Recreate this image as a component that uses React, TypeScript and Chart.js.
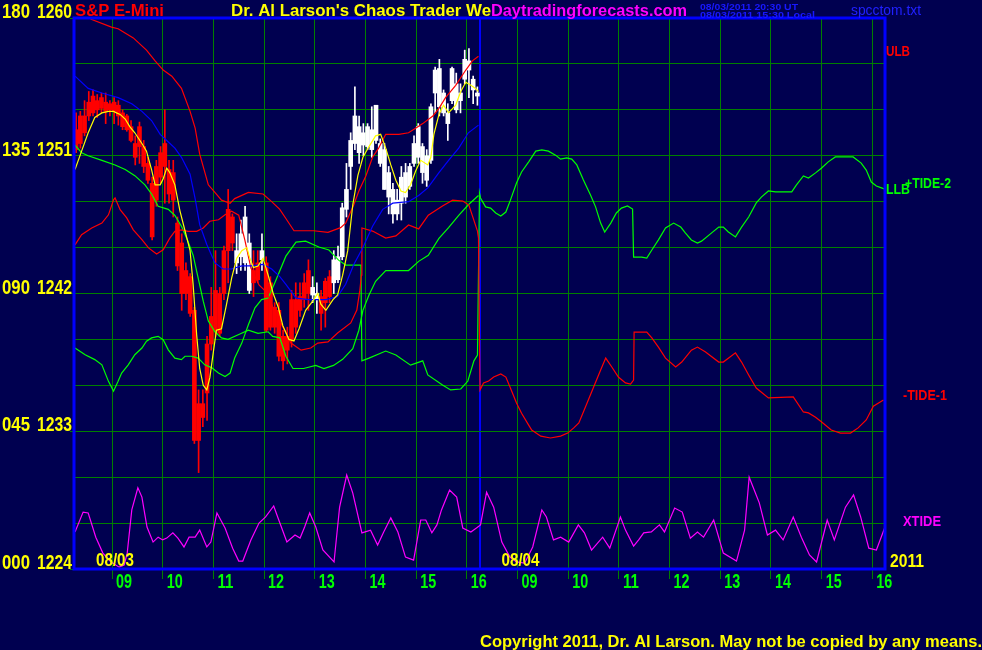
import React, { useEffect, useRef } from 'react';
import { Chart, registerables } from 'chart.js';

Chart.register(...registerables);

const BG = '#000050';
const FONT = '"Liberation Sans", Arial, Helvetica, sans-serif';

// ---- axes / labels ----
const hourTicks = [0.75, 1.75, 2.75, 3.75, 4.75, 5.75, 6.75, 7.75, 8.75, 9.75, 10.75, 11.75, 12.75, 13.75, 14.75, 15.75];
const hourLabels = ['09', '10', '11', '12', '13', '14', '15', '16', '09', '10', '11', '12', '13', '14', '15', '16'];
const sessionBreak = 8;
const dayStarts = [0, 8];
const dayLabels = ['08/03', '08/04'];
const yearLabel = '2011';
const priceLabelValues = [1260, 1251, 1242, 1233, 1224];
const oscLabelTexts = ['180', '135', '090', '045', '000'];

// ---- 5-minute candles, 08/03 session ----
const candleOpen = [1252.7, 1253.6, 1253.6, 1254.5, 1254.9, 1254.6, 1254.8, 1254.5, 1254.4, 1254.5, 1254.3, 1253.8, 1253.6, 1252.9, 1251.8, 1252.9, 1251.6, 1250.5, 1249.2, 1250.3, 1251.2, 1251.8, 1250.1, 1249.9, 1246.6, 1245.3, 1243.5, 1243.1, 1240.9, 1234.8, 1234.8, 1238.7, 1240.5, 1242.2, 1242.0, 1244.8, 1247.5, 1247.0, 1244.0, 1244.4, 1244.0, 1242.2, 1243.5, 1244.0, 1244.2, 1244.0, 1242.7, 1241.1, 1240.9, 1239.2, 1239.2, 1241.6, 1241.6, 1241.8, 1242.7, 1243.5, 1241.9, 1241.6, 1241.8, 1242.8, 1243.1, 1242.7, 1242.9, 1244.4, 1247.5, 1250.3, 1251.8, 1251.2, 1251.7, 1251.6, 1251.4, 1252.0, 1250.5, 1248.8, 1248.3, 1247.2, 1247.2, 1247.9, 1248.3, 1249.0, 1250.5, 1250.9, 1249.9, 1249.4, 1250.7, 1255.1, 1254.2, 1253.8, 1253.1, 1254.6, 1254.0, 1254.6, 1256.0, 1256.6, 1255.3, 1254.9];
const candleHigh = [1253.8, 1253.9, 1254.6, 1255.2, 1255.3, 1255.0, 1255.1, 1255.1, 1254.6, 1254.8, 1254.6, 1254.0, 1253.7, 1253.3, 1252.3, 1253.2, 1252.0, 1250.9, 1249.6, 1250.7, 1251.6, 1254.0, 1250.7, 1250.7, 1247.0, 1245.9, 1244.0, 1243.3, 1241.1, 1235.7, 1235.7, 1239.2, 1242.4, 1244.8, 1242.4, 1245.1, 1248.8, 1247.2, 1245.9, 1246.8, 1247.7, 1245.9, 1244.8, 1244.8, 1245.9, 1244.4, 1243.1, 1241.4, 1241.4, 1239.6, 1239.8, 1242.2, 1242.7, 1242.7, 1243.3, 1244.2, 1243.1, 1242.7, 1242.2, 1243.0, 1243.5, 1244.8, 1245.1, 1247.9, 1250.5, 1252.5, 1255.5, 1253.6, 1253.1, 1253.1, 1254.2, 1254.3, 1252.1, 1251.8, 1250.3, 1249.2, 1248.8, 1250.3, 1250.5, 1250.5, 1252.3, 1253.1, 1251.8, 1251.4, 1254.4, 1256.8, 1257.3, 1255.3, 1254.4, 1256.8, 1256.4, 1255.7, 1257.9, 1258.0, 1256.2, 1255.5];
const candleLow = [1251.2, 1251.5, 1252.3, 1253.3, 1253.6, 1253.5, 1253.8, 1253.1, 1253.6, 1253.1, 1253.0, 1252.7, 1252.6, 1251.9, 1250.4, 1250.5, 1249.9, 1249.2, 1245.5, 1247.7, 1249.2, 1247.9, 1247.9, 1247.0, 1243.5, 1240.9, 1241.6, 1240.5, 1232.2, 1230.3, 1233.3, 1233.7, 1238.3, 1239.2, 1239.2, 1241.6, 1242.7, 1244.8, 1243.3, 1243.5, 1243.5, 1242.0, 1241.8, 1242.7, 1243.5, 1239.5, 1239.6, 1239.4, 1237.6, 1237.0, 1237.4, 1238.5, 1239.4, 1240.5, 1241.1, 1240.9, 1241.4, 1240.7, 1239.6, 1239.8, 1241.4, 1242.0, 1242.7, 1244.2, 1247.0, 1248.8, 1251.4, 1250.5, 1251.0, 1251.4, 1250.9, 1251.8, 1250.3, 1248.8, 1247.2, 1246.6, 1246.8, 1246.8, 1247.9, 1248.8, 1250.3, 1250.5, 1249.2, 1249.0, 1250.5, 1253.8, 1253.6, 1253.6, 1252.0, 1254.4, 1253.8, 1253.8, 1255.7, 1254.8, 1254.4, 1254.3];
const candleClose = [1251.4, 1251.8, 1252.5, 1253.6, 1253.8, 1254.0, 1254.1, 1253.9, 1254.0, 1253.9, 1253.6, 1252.9, 1252.7, 1252.0, 1250.9, 1251.6, 1250.3, 1249.4, 1245.7, 1248.1, 1249.6, 1250.3, 1248.5, 1248.1, 1243.8, 1242.0, 1242.0, 1240.7, 1232.4, 1232.4, 1233.9, 1235.5, 1238.7, 1239.6, 1239.4, 1242.0, 1244.8, 1245.3, 1244.8, 1245.9, 1247.0, 1245.3, 1242.7, 1242.9, 1244.8, 1239.6, 1239.8, 1239.8, 1237.9, 1237.6, 1238.3, 1239.0, 1239.8, 1240.9, 1241.6, 1242.0, 1242.4, 1242.0, 1240.7, 1241.4, 1241.8, 1244.2, 1244.4, 1247.6, 1248.8, 1252.0, 1253.6, 1252.9, 1252.5, 1252.9, 1252.7, 1254.3, 1251.8, 1251.4, 1249.9, 1248.8, 1248.1, 1249.6, 1249.9, 1250.3, 1251.8, 1252.9, 1251.6, 1251.0, 1254.2, 1256.6, 1256.7, 1255.1, 1253.8, 1256.7, 1255.7, 1255.1, 1257.3, 1257.2, 1256.0, 1255.1];
const candleTrend = ('DDDDDDDDDD' + 'DDDDDDDDDD' + 'DDDDDDDDDD' + 'DDDDDDDD' + 'UUUU' + 'DD' + 'U' + 'DDDDDDDDDDD' + 'UU' + 'DDD' + 'UUUUUUUUUU' + 'UUUUUUUUUU' + 'UUUUUUUUUU' + 'UUUUU').split('');

// ---- price-scale lines [session hour, price] ----
const ULB: [number, number][] = [[0.02, 1260.6], [0.35, 1259.9], [0.74, 1259.4], [0.87, 1259.3], [1.17, 1258.7], [1.43, 1257.9], [1.6, 1257.2], [1.76, 1256.6], [1.93, 1256.2], [2.12, 1255.4], [2.29, 1253.9], [2.39, 1252.8], [2.48, 1251.1], [2.65, 1249.1], [2.78, 1248.6], [2.91, 1248.1], [3.08, 1247.9], [3.17, 1248.2], [3.44, 1248.6], [3.73, 1248.5], [3.9, 1248.0], [4.06, 1247.5], [4.18, 1246.9], [4.34, 1246.1], [4.73, 1246.1], [5.01, 1246.0], [5.26, 1246.3], [5.36, 1246.6], [5.52, 1247.8], [5.62, 1248.7], [5.76, 1249.7], [5.89, 1250.9], [6.01, 1251.5], [6.15, 1252.4], [6.41, 1252.4], [6.6, 1252.5], [6.74, 1252.8], [6.88, 1253.1], [7.08, 1253.6], [7.2, 1254.1], [7.33, 1254.8], [7.53, 1255.6], [7.73, 1256.6], [7.86, 1257.2], [7.98, 1257.5]];
const LLB: [number, number][] = [[0.02, 1251.7], [0.15, 1251.2], [0.28, 1251.0], [0.55, 1250.7], [0.81, 1250.4], [1.01, 1250.1], [1.2, 1249.7], [1.4, 1249.1], [1.53, 1248.5], [1.66, 1247.7], [1.86, 1247.5], [1.99, 1247.1], [2.12, 1246.4], [2.25, 1245.4], [2.35, 1244.5], [2.45, 1243.0], [2.55, 1241.5], [2.65, 1240.2], [2.78, 1239.5], [2.91, 1239.1], [3.04, 1239.0], [3.24, 1239.3], [3.44, 1239.6], [3.63, 1239.4], [3.83, 1239.5], [3.92, 1239.2], [4.06, 1239.1], [4.18, 1237.9], [4.32, 1237.1], [4.53, 1237.1], [4.77, 1237.3], [4.93, 1237.1], [5.12, 1237.3], [5.3, 1237.7], [5.5, 1238.4], [5.62, 1239.6], [5.7, 1240.9], [5.82, 1241.9], [5.95, 1242.8], [6.15, 1243.5], [6.49, 1243.5], [6.6, 1243.5], [6.8, 1244.1], [6.99, 1244.5], [7.2, 1245.6], [7.39, 1246.3], [7.59, 1247.1], [7.78, 1247.8], [7.98, 1248.4]];
const slowAvg: [number, number][] = [[0.02, 1256.2], [0.28, 1255.4], [0.55, 1255.1], [0.87, 1254.8], [1.14, 1254.4], [1.34, 1253.9], [1.53, 1253.3], [1.7, 1252.4], [1.83, 1252.0], [1.99, 1251.5], [2.12, 1250.9], [2.29, 1249.8], [2.39, 1248.2], [2.48, 1246.5], [2.62, 1245.2], [2.78, 1244.0], [2.94, 1243.6], [3.11, 1243.6], [3.31, 1243.8], [3.5, 1243.8], [3.73, 1243.9], [3.9, 1243.6], [4.06, 1243.1], [4.18, 1242.6], [4.38, 1241.7], [4.63, 1241.6], [4.97, 1241.6], [5.2, 1241.8], [5.36, 1242.6], [5.52, 1243.9], [5.7, 1245.0], [5.89, 1246.4], [6.09, 1247.5], [6.29, 1247.9], [6.6, 1248.0], [6.8, 1248.4], [6.98, 1248.9], [7.2, 1249.9], [7.39, 1250.7], [7.59, 1251.5], [7.78, 1252.5], [7.98, 1253.0]];
const fastAvg: [number, number][] = [[0.02, 1250.1], [0.15, 1251.3], [0.28, 1252.5], [0.41, 1253.5], [0.55, 1253.8], [0.68, 1253.9], [0.78, 1253.9], [0.84, 1253.8], [0.91, 1253.7], [1.01, 1253.4], [1.1, 1252.9], [1.2, 1252.5], [1.34, 1251.8], [1.43, 1251.3], [1.53, 1250.1], [1.6, 1249.1], [1.7, 1249.1], [1.76, 1249.5], [1.83, 1250.2], [1.89, 1249.9], [1.99, 1249.1], [2.09, 1247.4], [2.19, 1246.1], [2.29, 1244.8], [2.35, 1242.6], [2.42, 1239.3], [2.48, 1237.1], [2.55, 1236.0], [2.62, 1235.7], [2.68, 1236.5], [2.75, 1238.2], [2.81, 1239.6], [2.91, 1239.7], [3.01, 1241.3], [3.11, 1243.0], [3.21, 1244.3], [3.31, 1244.8], [3.41, 1245.0], [3.47, 1244.3], [3.54, 1243.7], [3.63, 1243.8], [3.73, 1244.3], [3.83, 1243.2], [3.93, 1242.0], [4.03, 1241.1], [4.12, 1239.9], [4.24, 1239.0], [4.34, 1238.9], [4.44, 1239.7], [4.57, 1240.9], [4.71, 1241.5], [4.81, 1242.0], [4.87, 1241.3], [4.97, 1240.9], [5.11, 1241.6], [5.2, 1241.9], [5.3, 1243.2], [5.4, 1244.8], [5.5, 1247.8], [5.6, 1249.7], [5.7, 1250.9], [5.82, 1251.6], [5.95, 1252.3], [6.05, 1252.4], [6.15, 1251.5], [6.25, 1250.4], [6.35, 1249.4], [6.45, 1248.7], [6.54, 1248.6], [6.64, 1249.1], [6.74, 1250.0], [6.84, 1250.7], [6.98, 1250.4], [7.04, 1250.9], [7.1, 1252.4], [7.2, 1253.7], [7.29, 1254.3], [7.39, 1253.8], [7.53, 1254.3], [7.63, 1255.2], [7.73, 1255.8], [7.83, 1255.6], [7.92, 1255.4], [7.98, 1255.2]];

// ---- oscillator lines [session hour, 0..180] ----
const TIDE2: [number, number][] = [[0.02, 72.2], [0.22, 70.0], [0.41, 68.4], [0.55, 66.7], [0.68, 61.3], [0.78, 58.1], [0.87, 61.3], [0.94, 64.0], [1.07, 66.7], [1.2, 70.0], [1.34, 72.2], [1.43, 74.4], [1.53, 75.5], [1.66, 76.0], [1.76, 74.9], [1.86, 71.6], [1.99, 68.9], [2.12, 68.4], [2.19, 69.5], [2.32, 69.5], [2.45, 68.9], [2.58, 66.7], [2.72, 65.7], [2.85, 64.0], [2.98, 62.9], [3.08, 64.0], [3.17, 68.9], [3.31, 73.8], [3.44, 79.8], [3.57, 85.3], [3.7, 88.0], [3.83, 88.5], [3.96, 93.4], [4.18, 102.2], [4.38, 106.8], [4.57, 107.1], [4.83, 105.2], [5.03, 104.2], [5.22, 100.9], [5.36, 99.3], [5.66, 99.3], [5.68, 68.0], [5.82, 68.9], [6.15, 71.2], [6.35, 69.9], [6.64, 66.6], [6.88, 68.0], [6.98, 63.4], [7.27, 60.1], [7.43, 58.5], [7.63, 58.8], [7.77, 61.4], [7.89, 68.0], [7.96, 69.9], [8.0, 122.8], [8.02, 121.2], [8.12, 118.3], [8.22, 117.9], [8.32, 116.3], [8.42, 115.3], [8.52, 116.6], [8.61, 120.5], [8.73, 126.1], [8.83, 129.7], [8.97, 133.0], [9.11, 136.5], [9.23, 136.9], [9.36, 136.5], [9.5, 135.2], [9.6, 133.9], [9.72, 134.3], [9.82, 133.9], [9.92, 132.0], [10.05, 127.1], [10.19, 122.2], [10.29, 118.3], [10.39, 113.0], [10.47, 110.1], [10.59, 113.0], [10.7, 116.3], [10.8, 117.9], [10.92, 118.6], [11.02, 117.6], [11.04, 101.9], [11.2, 101.9], [11.3, 101.6], [11.4, 104.2], [11.53, 107.5], [11.67, 111.4], [11.83, 113.0], [11.97, 111.7], [12.06, 109.8], [12.18, 107.5], [12.3, 106.5], [12.38, 107.1], [12.58, 109.8], [12.72, 111.7], [12.81, 111.7], [12.91, 110.1], [13.05, 108.5], [13.17, 111.7], [13.31, 115.0], [13.46, 119.6], [13.56, 121.5], [13.7, 123.5], [13.84, 123.2], [14.16, 123.2], [14.25, 125.4], [14.39, 128.4], [14.49, 127.7], [14.63, 129.4], [14.75, 131.0], [14.88, 133.0], [15.02, 134.6], [15.37, 134.6], [15.53, 132.6], [15.63, 130.3], [15.73, 126.4], [15.83, 125.1], [15.93, 124.5], [16.0, 124.1]];
const TIDE1: [number, number][] = [[0.02, 105.9], [0.15, 109.2], [0.35, 111.4], [0.55, 113.0], [0.68, 115.7], [0.78, 120.6], [0.81, 121.2], [0.91, 117.4], [1.04, 114.7], [1.17, 110.8], [1.34, 107.6], [1.47, 104.9], [1.63, 102.9], [1.76, 104.3], [1.89, 108.1], [1.99, 110.3], [2.12, 110.8], [2.25, 110.3], [2.42, 110.3], [2.55, 111.4], [2.68, 113.6], [2.85, 114.1], [2.98, 115.7], [3.11, 116.9], [3.25, 115.6], [3.37, 107.5], [3.49, 98.3], [3.65, 92.8], [3.81, 90.2], [3.96, 84.0], [4.08, 80.4], [4.28, 73.8], [4.48, 71.5], [4.67, 72.2], [4.81, 73.8], [5.01, 74.2], [5.2, 77.1], [5.46, 80.4], [5.58, 84.6], [5.64, 91.1], [5.67, 96.0], [5.68, 111.4], [5.89, 110.4], [6.15, 108.1], [6.35, 108.8], [6.6, 112.4], [6.8, 111.1], [6.99, 115.6], [7.27, 118.6], [7.47, 120.5], [7.67, 120.2], [7.79, 118.9], [7.96, 110.4], [7.98, 108.1], [8.01, 58.5], [8.08, 60.8], [8.18, 61.4], [8.28, 62.7], [8.42, 63.7], [8.52, 62.7], [8.61, 59.1], [8.73, 54.2], [8.83, 50.9], [8.97, 47.0], [9.03, 45.4], [9.21, 43.4], [9.4, 42.8], [9.6, 43.4], [9.74, 44.4], [9.86, 46.1], [9.96, 47.7], [10.09, 52.9], [10.25, 59.4], [10.39, 65.0], [10.49, 68.9], [10.61, 66.0], [10.74, 62.7], [10.88, 60.8], [10.98, 60.4], [11.04, 61.7], [11.05, 77.4], [11.3, 77.4], [11.4, 75.5], [11.53, 72.5], [11.67, 68.9], [11.87, 66.0], [11.99, 67.6], [12.18, 71.5], [12.3, 72.5], [12.46, 70.9], [12.72, 67.6], [12.81, 67.6], [13.05, 70.6], [13.17, 67.6], [13.31, 63.4], [13.46, 59.1], [13.7, 55.9], [14.19, 56.2], [14.39, 51.3], [14.49, 51.0], [14.63, 49.6], [14.75, 48.0], [14.94, 45.4], [15.12, 44.4], [15.32, 44.4], [15.47, 46.1], [15.63, 48.7], [15.77, 53.2], [15.97, 55.2]];
const XTIDE: [number, number][] = [[0.02, 12.1], [0.18, 18.6], [0.28, 18.3], [0.43, 10.4], [0.57, 5.2], [0.73, 2.3], [0.89, 0.6], [0.99, 1.3], [1.05, 5.2], [1.14, 19.3], [1.26, 26.5], [1.34, 23.5], [1.44, 13.7], [1.56, 8.8], [1.66, 10.4], [1.75, 9.5], [1.83, 10.1], [1.95, 11.8], [2.05, 10.1], [2.17, 7.2], [2.27, 10.4], [2.39, 10.4], [2.48, 12.7], [2.62, 7.2], [2.7, 8.8], [2.82, 18.3], [2.98, 13.4], [3.13, 6.8], [3.25, 2.6], [3.33, 2.6], [3.49, 9.5], [3.65, 15.0], [3.78, 17.0], [3.94, 20.6], [4.04, 16.0], [4.2, 8.8], [4.36, 11.1], [4.46, 10.1], [4.55, 13.7], [4.65, 18.3], [4.77, 13.7], [4.91, 6.2], [5.13, 2.3], [5.24, 20.2], [5.38, 30.7], [5.5, 24.8], [5.68, 11.8], [5.85, 12.7], [5.99, 7.8], [6.11, 12.1], [6.25, 16.7], [6.39, 12.1], [6.54, 3.9], [6.7, 2.9], [6.84, 16.0], [6.94, 16.0], [7.06, 11.8], [7.16, 14.4], [7.25, 19.3], [7.41, 25.8], [7.55, 23.5], [7.67, 13.4], [7.83, 12.1], [7.94, 13.4], [8.02, 14.4], [8.14, 25.1], [8.28, 20.2], [8.44, 8.8], [8.6, 3.9], [8.73, 2.3], [8.89, 1.9], [9.05, 7.2], [9.23, 19.3], [9.32, 17.0], [9.46, 9.5], [9.6, 10.4], [9.76, 8.8], [9.95, 14.4], [10.07, 11.8], [10.21, 6.2], [10.43, 10.4], [10.57, 6.8], [10.78, 17.0], [10.88, 12.7], [11.04, 7.5], [11.14, 9.5], [11.24, 11.8], [11.39, 12.1], [11.55, 14.4], [11.65, 12.1], [11.85, 19.9], [12.0, 18.6], [12.16, 10.1], [12.3, 12.1], [12.42, 10.4], [12.62, 16.0], [12.81, 5.2], [13.07, 2.6], [13.23, 12.7], [13.32, 30.0], [13.52, 21.6], [13.68, 11.1], [13.84, 12.7], [13.99, 9.5], [14.19, 17.0], [14.35, 10.4], [14.51, 4.6], [14.65, 2.3], [14.86, 16.0], [15.0, 9.5], [15.22, 20.2], [15.38, 24.2], [15.52, 17.0], [15.68, 6.8], [15.83, 6.2], [16.0, 13.7]];

const toXY = (arr: [number, number][]) => arr.map(([x, y]) => ({ x, y }));

function putText(ctx: CanvasRenderingContext2D, s: string, x: number, y: number, w: number, color: string, font: string) {
  ctx.font = font;
  ctx.fillStyle = color;
  ctx.textAlign = 'left';
  ctx.textBaseline = 'alphabetic';
  const m = ctx.measureText(s).width || 1;
  ctx.save();
  ctx.translate(x, y);
  ctx.scale(w / m, 1);
  ctx.fillText(s, 0, 0);
  ctx.restore();
}

const decorPlugin = {
  id: 'chaosDecor',
  beforeDraw(chart: any) {
    const { ctx, width, height } = chart;
    ctx.save();
    ctx.fillStyle = BG;
    ctx.fillRect(0, 0, width, height);
    ctx.restore();
  },
  afterDraw(chart: any) {
    const { ctx, chartArea: a, scales } = chart;
    const xs = scales.x;
    const ys = scales.y;
    ctx.save();
    ctx.strokeStyle = '#0000FF';
    ctx.lineWidth = 3;
    ctx.strokeRect(a.left, a.top, a.right - a.left, a.bottom - a.top);

    const Y = '#FFFF00';
    const G = '#00FF00';
    const bold = (n: number) => `bold ${n}px ${FONT}`;

    priceLabelValues.forEach((p, k) => {
      const y = ys.getPixelForValue(p);
      putText(ctx, oscLabelTexts[k], 2, y, 28, Y, bold(20));
      putText(ctx, String(p), 37, y, 35, Y, bold(20));
    });
    hourTicks.forEach((v, k) => {
      const x = xs.getPixelForValue(v) + 4;
      putText(ctx, hourLabels[k], x, 588, 16, G, bold(20));
    });
    dayStarts.forEach((d, k) => {
      putText(ctx, dayLabels[k], xs.getPixelForValue(d) + 22, 566, 38, Y, bold(19));
    });
    putText(ctx, yearLabel, a.right + 5, 567, 34, Y, bold(19));

    putText(ctx, 'S&P E-Mini', 75, 16, 89, '#FF0000', bold(16));
    putText(ctx, "Dr. Al Larson's Chaos Trader We", 231, 16, 260, Y, bold(16));
    putText(ctx, 'Daytradingforecasts.com', 491, 16, 196, '#FF00FF', bold(16));
    putText(ctx, '08/03/2011 20:30 UT', 700, 10, 98, '#1818FF', `bold 9px ${FONT}`);
    putText(ctx, '08/03/2011 15:30 Local', 700, 18, 115, '#1818FF', `bold 9px ${FONT}`);
    putText(ctx, 'spcctom.txt', 851, 15, 70, '#2020FF', `15px ${FONT}`);

    putText(ctx, 'ULB', a.right + 1, 56, 24, '#FF0000', bold(15));
    putText(ctx, '+TIDE-2', 905, 188, 46, G, bold(15));
    putText(ctx, 'LLB', a.right + 1, 194, 24, G, bold(15));
    putText(ctx, '-TIDE-1', 903, 400, 44, '#FF0000', bold(15));
    putText(ctx, 'XTIDE', 903, 526, 38, '#FF00FF', bold(15));

    putText(ctx, 'Copyright 2011, Dr. Al Larson. May not be copied by any means.', 480, 647, 502, Y, bold(17));
    ctx.restore();
  },
};

export default function App() {
  const ref = useRef<HTMLCanvasElement | null>(null);

  useEffect(() => {
    if (!ref.current) return;
    const candleX = candleOpen.map((_, i) => (i + 0.5) / 12);
    const candleColors = candleTrend.map((t) => (t === 'D' ? '#FF0000' : '#FFFFFF'));

    const line = (data: [number, number][], color: string, axis: string, order: number) => ({
      type: 'line' as const,
      data: toXY(data),
      borderColor: color,
      borderWidth: 1.2,
      pointRadius: 0,
      tension: 0,
      fill: false,
      yAxisID: axis,
      order,
    });

    const chart = new Chart(ref.current, {
      type: 'line',
      data: {
        datasets: [
          {
            type: 'bar',
            label: 'range',
            data: candleX.map((x, i) => ({ x, y: [candleLow[i], candleHigh[i]] })) as any,
            backgroundColor: candleColors,
            barThickness: 1,
            grouped: false,
            borderWidth: 0,
            yAxisID: 'y',
            order: 20,
          } as any,
          {
            type: 'bar',
            label: 'body',
            data: candleX.map((x, i) => ({ x, y: [candleOpen[i], candleClose[i]] })) as any,
            backgroundColor: candleColors,
            barThickness: 4,
            minBarLength: 1,
            grouped: false,
            borderWidth: 0,
            yAxisID: 'y',
            order: 19,
          } as any,
          line(LLB, '#00FF00', 'y', 6),
          line(TIDE2, '#00FF00', 'yo', 5),
          line(TIDE1, '#FF0000', 'yo', 4),
          line(XTIDE, '#FF00FF', 'yo', 4),
          line(slowAvg, '#0000FF', 'y', 3),
          line(ULB, '#FF0000', 'y', 2),
          line(fastAvg, '#FFFF00', 'y', 1),
        ],
      },
      options: {
        animation: false,
        responsive: false,
        devicePixelRatio: 1,
        events: [],
        layout: { padding: { top: 18, right: 97, left: 0, bottom: 0 } },
        plugins: { legend: { display: false }, tooltip: { enabled: false }, title: { display: false } },
        scales: {
          x: {
            type: 'linear',
            min: 0,
            max: 16,
            offset: false,
            afterBuildTicks: (s: any) => {
              s.ticks = [...hourTicks.slice(0, 8), sessionBreak, ...hourTicks.slice(8)].map((value) => ({ value }));
            },
            afterFit: (s: any) => {
              s.height = 81;
            },
            ticks: { display: false },
            border: { display: false },
            grid: {
              offset: false,
              color: (c: any) => (c.tick && c.tick.value === sessionBreak ? '#0000FF' : '#008000'),
              tickColor: (c: any) => (c.tick && c.tick.value === sessionBreak ? 'rgba(0,0,0,0)' : '#008000'),
              lineWidth: (c: any) => (c.tick && c.tick.value === sessionBreak ? 2 : 1),
              tickLength: 10,
            },
          },
          y: {
            type: 'linear',
            position: 'left',
            min: 1224,
            max: 1260,
            ticks: { display: false, stepSize: 3 },
            afterFit: (s: any) => {
              s.width = 74;
            },
            border: { display: false },
            grid: {
              color: '#008000',
              tickColor: (c: any) => (c.tick && priceLabelValues.includes(c.tick.value) ? '#008000' : 'rgba(0,0,0,0)'),
              tickLength: 4,
            },
          },
          yo: {
            type: 'linear',
            position: 'right',
            display: false,
            min: 0,
            max: 180,
          },
        },
      } as any,
      plugins: [decorPlugin],
    });
    return () => chart.destroy();
  }, []);

  return (
    <div style={{ position: 'fixed', left: 0, top: 0, width: 982, height: 650, background: BG }}>
      <canvas ref={ref} width={982} height={650} style={{ display: 'block' }} />
    </div>
  );
}
